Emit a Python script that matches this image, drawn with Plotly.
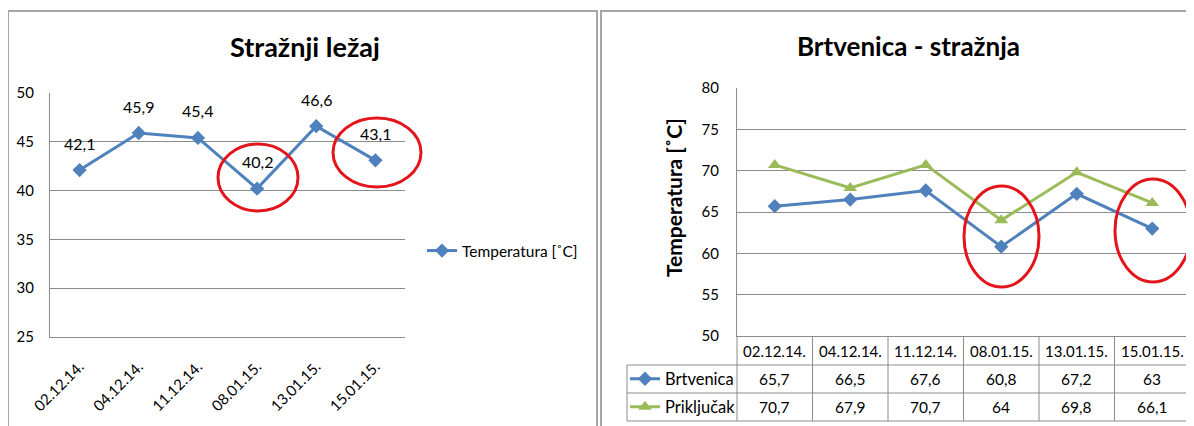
import plotly.graph_objects as go

# ---------------- data ----------------
dates = ["02.12.14.", "04.12.14.", "11.12.14.", "08.01.15.", "13.01.15.", "15.01.15."]
lezaj_temp = [42.1, 45.9, 45.4, 40.2, 46.6, 43.1]
brtvenica = [65.7, 66.5, 67.6, 60.8, 67.2, 63.0]
prikljucak = [70.7, 67.9, 70.7, 64.0, 69.8, 66.1]
left_yticks = [25, 30, 35, 40, 45, 50]
right_yticks = [50, 55, 60, 65, 70, 75, 80]

# ---------------- style ----------------
# page body has an 8px margin, so the figure is sized to start at (8, 8) of the window
OFF = 8
W, H = 1194 - OFF, 426 - OFF
BLUE = "#4F81BD"
GREEN = "#9BBB59"
GRID = "#8C8C8C"
FRAME = "#A6A6A6"
FONT = "Lato"


def px(x):
    return (x - OFF) / W


def py(y):
    return 1 - (y - OFF) / H


def fmt(v):
    s = ("%.1f" % v).rstrip("0").rstrip(".")
    return s.replace(".", ",")


fig = go.Figure()

fig.add_trace(go.Scatter(
    x=dates, y=lezaj_temp, mode="lines+markers", name="Temperatura [˚C]",
    line=dict(color=BLUE, width=3), marker=dict(symbol="diamond", size=11, color=BLUE),
    xaxis="x", yaxis="y", legend="legend"))

fig.add_trace(go.Scatter(
    x=dates, y=brtvenica, mode="lines+markers", name="Brtvenica",
    line=dict(color=BLUE, width=3), marker=dict(symbol="diamond", size=11, color=BLUE),
    xaxis="x2", yaxis="y2", legend="legend2"))

fig.add_trace(go.Scatter(
    x=dates, y=prikljucak, mode="lines+markers", name="Priključak",
    line=dict(color=GREEN, width=3), marker=dict(symbol="triangle-up", size=12, color=GREEN),
    xaxis="x2", yaxis="y2", legend="legend3"))

annotations = []
# titles
annotations.append(dict(text="<b>Stražnji ležaj</b>", x=px(305), y=py(47), xref="paper", yref="paper",
                        showarrow=False, font=dict(size=27, color="#000"), xanchor="center", yanchor="middle"))
annotations.append(dict(text="<b>Brtvenica - stražnja</b>", x=px(908), y=py(46), xref="paper", yref="paper",
                        showarrow=False, font=dict(size=26, color="#000"), xanchor="center", yanchor="middle"))
# y-axis title (right chart)
annotations.append(dict(text="<b>Temperatura [˚C]</b>", x=px(673), y=py(198), xref="paper", yref="paper",
                        showarrow=False, textangle=-90, font=dict(size=21, color="#000"),
                        xanchor="center", yanchor="middle"))
# data labels (left)
for d, v in zip(dates, lezaj_temp):
    annotations.append(dict(text=fmt(v), x=d, y=v, xref="x", yref="y", yshift=27,
                            xanchor="center", yanchor="middle",
                            showarrow=False, font=dict(size=16, color="#000")))
# table text (right)
for d in dates:
    annotations.append(dict(text=d, x=d, y=py(351), xref="x2", yref="paper",
                            xanchor="center", yanchor="middle",
                            showarrow=False, font=dict(size=15, color="#000")))
for d, v in zip(dates, brtvenica):
    annotations.append(dict(text=fmt(v), x=d, y=py(379), xref="x2", yref="paper",
                            xanchor="center", yanchor="middle",
                            showarrow=False, font=dict(size=15.5, color="#000")))
for d, v in zip(dates, prikljucak):
    annotations.append(dict(text=fmt(v), x=d, y=py(407), xref="x2", yref="paper",
                            xanchor="center", yanchor="middle",
                            showarrow=False, font=dict(size=15.5, color="#000")))

shapes = []
# panel frames
shapes.append(dict(type="rect", x0=px(8), x1=px(597), y0=py(440), y1=py(11), xref="paper", yref="paper",
                   line=dict(color=FRAME, width=2)))
shapes.append(dict(type="rect", x0=px(601), x1=px(1210), y0=py(440), y1=py(11), xref="paper", yref="paper",
                   line=dict(color=FRAME, width=2)))
# table lines
for yy in [365, 393, 421]:
    shapes.append(dict(type="line", x0=px(627), x1=px(1190), y0=py(yy), y1=py(yy), xref="paper", yref="paper",
                       line=dict(color=GRID, width=1)))
col_w = (1190 - 737) / 6
for k in range(7):
    xx = 737 + k * col_w
    shapes.append(dict(type="line", x0=px(xx), x1=px(xx), y0=py(336), y1=py(421), xref="paper", yref="paper",
                       line=dict(color=GRID, width=1)))
shapes.append(dict(type="line", x0=px(627), x1=px(627), y0=py(365), y1=py(421), xref="paper", yref="paper",
                   line=dict(color=GRID, width=1)))
# red ellipses (highlights)
for (x0, x1, y0, y1) in [(218, 298, 144, 211), (333, 421, 118, 187), (964, 1039, 186, 287), (1115, 1191, 179, 282)]:
    shapes.append(dict(type="circle", x0=px(x0), x1=px(x1), y0=py(y1), y1=py(y0), xref="paper", yref="paper",
                       line=dict(color="#E3151B", width=3)))

fig.update_layout(
    width=W, height=H, autosize=False,
    margin=dict(l=0, r=0, t=0, b=0, autoexpand=False),
    paper_bgcolor="white", plot_bgcolor="white",
    font=dict(family=FONT, size=15, color="#000"),
    showlegend=True,
    xaxis=dict(domain=[px(50), px(405)], type="category", range=[-0.5, 5.5], anchor="y", automargin=False,
               showgrid=False, showline=True, linecolor=GRID, linewidth=1, zeroline=False, tickangle=-45,
               ticks="", ticklabelstandoff=14, tickfont=dict(size=15)),
    yaxis=dict(domain=[py(337), py(93)], range=[25, 50], tickvals=left_yticks, anchor="x", automargin=False,
               showgrid=True, gridcolor=GRID, gridwidth=1, showline=True, linecolor=GRID, linewidth=1,
               zeroline=False, ticks="", ticklabelstandoff=12, tickfont=dict(size=15)),
    xaxis2=dict(domain=[px(737), px(1190)], type="category", range=[-0.5, 5.5], anchor="y2", automargin=False,
                showgrid=False, showline=True, linecolor=GRID, linewidth=1, zeroline=False,
                showticklabels=False, ticks=""),
    yaxis2=dict(domain=[py(336), py(88)], range=[50, 80], tickvals=right_yticks, anchor="x2", automargin=False,
                showgrid=True, gridcolor=GRID, gridwidth=1, showline=True, linecolor=GRID, linewidth=1,
                zeroline=False, ticks="", ticklabelstandoff=14, tickfont=dict(size=15)),
    legend=dict(x=px(422), y=py(251), xanchor="left", yanchor="middle", bgcolor="rgba(0,0,0,0)",
                font=dict(size=15.5)),
    legend2=dict(x=px(625), y=py(379), xanchor="left", yanchor="middle", bgcolor="rgba(0,0,0,0)",
                 font=dict(size=16.5)),
    legend3=dict(x=px(625), y=py(407), xanchor="left", yanchor="middle", bgcolor="rgba(0,0,0,0)",
                 font=dict(size=16.5)),
    annotations=annotations,
    shapes=shapes,
)

fig.write_html("out.html")
